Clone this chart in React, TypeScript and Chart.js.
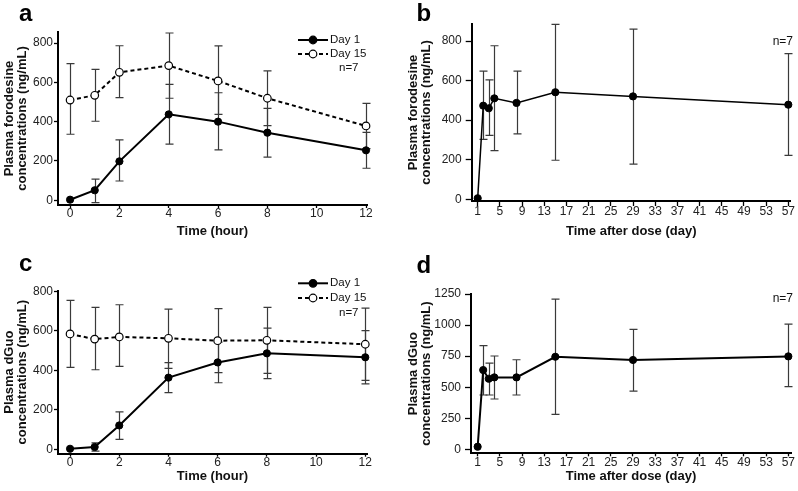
import React, { useEffect, useRef } from "react";
import { Chart, registerables } from "chart.js";

Chart.register(...registerables);

// ---------------- Data ----------------
const hourPoints = [0, 1, 2, 4, 6, 8, 12];
const hourTicks = [0, 2, 4, 6, 8, 10, 12];
const dayPoints = [1, 2, 3, 4, 8, 15, 29, 57];
const dayTicks = [1, 5, 9, 13, 17, 21, 25, 29, 33, 37, 41, 45, 49, 53, 57];
const concTicks800 = [0, 200, 400, 600, 800];
const concTicks1250 = [0, 250, 500, 750, 1000, 1250];

const forodesineDay1 = [3, 51, 198, 437, 400, 344, 254];
const forodesineDay1Upper = [null, 108, 307, 590, 547, 468, 345];
const forodesineDay1Lower = [null, -12, 98, 286, 256, 220, 163];
const forodesineDay15 = [510, 534, 651, 685, 607, 519, 378];
const forodesineDay15Upper = [695, 666, 786, 851, 785, 658, 493];
const forodesineDay15Lower = [336, 402, 522, 519, 437, 380, 263];

const forodesineDaily = [5, 473, 460, 510, 487, 541, 520, 478];
const forodesineDailyUpper = [null, 648, 603, 776, 648, 884, 860, 736];
const forodesineDailyLower = [null, 303, 323, 246, 330, 197, 177, 222];

const dGuoDay1 = [3, 12, 121, 363, 440, 486, 466];
const dGuoDay1Upper = [null, 33, 190, 439, 543, 614, 601];
const dGuoDay1Lower = [null, -9, 51, 287, 337, 358, 331];
const dGuoDay15 = [584, 558, 569, 562, 550, 552, 532];
const dGuoDay15Upper = [754, 719, 732, 710, 712, 719, 715];
const dGuoDay15Lower = [415, 403, 420, 410, 388, 385, 349];

const dGuoDaily = [21, 638, 568, 579, 579, 745, 719, 748];
const dGuoDailyUpper = [null, 834, 694, 751, 721, 1209, 965, 1008];
const dGuoDailyLower = [null, 437, 437, 405, 437, 281, 469, 504];

const legendLabels = ["Day 1", "Day 15"];
const sampleLabel = "n=7";
const hourTitle = "Time (hour)";
const dayTitle = "Time after dose (day)";
const forodesineTitle = ["Plasma forodesine", "concentrations (ng/mL)"];
const dGuoTitle = ["Plasma dGuo", "concentrations (ng/mL)"];

// ---------------- Styling / layout ----------------
const FONT = '"Liberation Sans", Arial, Helvetica, sans-serif';

type Series = {
  label: string;
  values: number[];
  upper: (number | null)[];
  lower: (number | null)[];
  open: boolean;
  width: number;
};

type Spec = {
  letter: string;
  letterPos: [number, number];
  left: number;
  top: number;
  w: number;
  h: number;
  area: { l: number; t: number; r: number; b: number };
  xs: number[];
  xTicks: number[];
  yTicks: number[];
  xMin: number;
  xMax: number;
  yMin: number;
  yMax: number;
  xTitle: string;
  yTitle: string[];
  series: Series[];
  tickLen: number;
  tickPad: number;
  xTickLen: number;
  xTickPad: number;
  yTitlePad: number;
  xTitlePad: number;
  legend?: { x0: number; x1: number; tx: number; rows: number[]; nx: number; ny: number };
  nLabel?: { x: number; y: number };
};

const decorPlugin = {
  id: "decor",
  beforeDatasetsDraw(chart: any) {
    const ctx = chart.ctx;
    const xs = chart.scales.x;
    const ys = chart.scales.y;
    chart.data.datasets.forEach((ds: any) => {
      if (!ds.errUpper) return;
      ctx.save();
      ctx.strokeStyle = "#3a3a3a";
      ctx.lineWidth = 1.2;
      ds.data.forEach((pt: any, i: number) => {
        const hi = ds.errUpper[i];
        const lo = ds.errLower[i];
        if (hi == null || lo == null) return;
        const x = Math.round(xs.getPixelForValue(pt.x)) + 0.5;
        const yh = ys.getPixelForValue(hi);
        const yl = ys.getPixelForValue(lo);
        ctx.beginPath();
        ctx.moveTo(x, yh);
        ctx.lineTo(x, yl);
        ctx.moveTo(x - 4, yh);
        ctx.lineTo(x + 4, yh);
        ctx.moveTo(x - 4, yl);
        ctx.lineTo(x + 4, yl);
        ctx.stroke();
      });
      ctx.restore();
    });
  },
  afterDraw(chart: any, _args: any, opts: any) {
    const ctx = chart.ctx;
    const spec: Spec = opts.spec;
    ctx.save();
    ctx.fillStyle = "#000";
    ctx.textBaseline = "alphabetic";
    ctx.textAlign = "left";
    ctx.font = `bold 24px ${FONT}`;
    ctx.fillText(spec.letter, spec.letterPos[0], spec.letterPos[1]);

    if (spec.legend) {
      const lg = spec.legend;
      spec.series.forEach((s, i) => {
        const y = lg.rows[i];
        ctx.strokeStyle = "#000";
        ctx.lineWidth = 2;
        ctx.setLineDash(s.open ? [4, 3] : []);
        ctx.beginPath();
        ctx.moveTo(lg.x0, y);
        ctx.lineTo(lg.x1, y);
        ctx.stroke();
        ctx.setLineDash([]);
        const cx = (lg.x0 + lg.x1) / 2;
        ctx.beginPath();
        ctx.arc(cx, y, 3.8, 0, Math.PI * 2);
        ctx.fillStyle = s.open ? "#fff" : "#000";
        ctx.fill();
        ctx.lineWidth = 1.2;
        ctx.stroke();
        ctx.fillStyle = "#111";
        ctx.font = `11.5px ${FONT}`;
        ctx.textBaseline = "middle";
        ctx.fillText(s.label, lg.tx, y);
      });
      ctx.font = `11.5px ${FONT}`;
      ctx.textBaseline = "middle";
      ctx.fillText(sampleLabel, lg.nx, lg.ny);
    }
    if (spec.nLabel) {
      ctx.fillStyle = "#111";
      ctx.font = `12px ${FONT}`;
      ctx.textBaseline = "middle";
      ctx.textAlign = "right";
      ctx.fillText(sampleLabel, spec.nLabel.x, spec.nLabel.y);
    }
    ctx.restore();
  },
};

function buildConfig(spec: Spec): any {
  const datasets = spec.series.map((s) => ({
    label: s.label,
    data: s.values.map((v, i) => ({ x: spec.xs[i], y: v })),
    borderColor: "#000",
    backgroundColor: s.open ? "#fff" : "#000",
    borderWidth: s.width,
    borderDash: s.open ? [4, 3] : [],
    pointRadius: s.open ? 3.8 : 3.6,
    pointBorderWidth: s.open ? 1.2 : 1,
    pointBackgroundColor: s.open ? "#fff" : "#000",
    pointBorderColor: "#000",
    tension: 0,
    clip: false,
    errUpper: s.upper,
    errLower: s.lower,
  }));
  const gridOpts = (len: number) => ({
    display: true,
    drawOnChartArea: false,
    drawTicks: true,
    tickLength: len,
    tickColor: "#000",
    tickWidth: 1.3,
  });
  const borderOpts = { display: true, color: "#000", width: 2 };
  return {
    type: "line",
    data: { datasets },
    plugins: [decorPlugin],
    options: {
      animation: false,
      responsive: false,
      maintainAspectRatio: false,
      layout: {
        padding: { left: 0, top: spec.area.t, right: spec.w - spec.area.r, bottom: 0 },
      },
      plugins: {
        legend: { display: false },
        tooltip: { enabled: false },
        decor: { spec },
      },
      scales: {
        x: {
          type: "linear",
          min: spec.xMin,
          max: spec.xMax,
          afterBuildTicks: (s: any) => {
            s.ticks = spec.xTicks.map((v) => ({ value: v }));
          },
          afterFit: (s: any) => {
            s.height = spec.h - spec.area.b;
          },
          ticks: {
            autoSkip: false,
            maxRotation: 0,
            padding: spec.xTickPad,
            color: "#222",
            font: { family: FONT, size: 12, lineHeight: 1 },
            callback: (v: any) => String(v),
          },
          grid: gridOpts(spec.xTickLen),
          border: borderOpts,
          title: {
            display: true,
            text: spec.xTitle,
            color: "#111",
            font: { family: FONT, size: 13, weight: "bold", lineHeight: 1.2 },
            padding: { top: 0, bottom: spec.xTitlePad },
          },
        },
        y: {
          type: "linear",
          min: spec.yMin,
          max: spec.yMax,
          afterBuildTicks: (s: any) => {
            s.ticks = spec.yTicks.map((v) => ({ value: v }));
          },
          afterFit: (s: any) => {
            s.width = spec.area.l;
          },
          ticks: {
            autoSkip: false,
            padding: spec.tickPad,
            color: "#222",
            font: { family: FONT, size: 12 },
            callback: (v: any) => String(v),
          },
          grid: gridOpts(spec.tickLen),
          border: borderOpts,
          title: {
            display: true,
            text: spec.yTitle,
            color: "#111",
            font: { family: FONT, size: 13, weight: "bold", lineHeight: 1 },
            padding: { top: spec.yTitlePad, bottom: 0 },
          },
        },
      },
    },
  };
}

const specs: Spec[] = [
  {
    letter: "a",
    letterPos: [19, 21],
    left: 0,
    top: 0,
    w: 399,
    h: 245,
    area: { l: 58, t: 32, r: 367, b: 205 },
    xs: hourPoints,
    xTicks: hourTicks,
    yTicks: concTicks800,
    xMin: -0.49,
    xMax: 12.04,
    yMin: -24,
    yMax: 856,
    xTitle: hourTitle,
    yTitle: forodesineTitle,
    series: [
      { label: legendLabels[0], values: forodesineDay1, upper: forodesineDay1Upper, lower: forodesineDay1Lower, open: false, width: 2 },
      { label: legendLabels[1], values: forodesineDay15, upper: forodesineDay15Upper, lower: forodesineDay15Lower, open: true, width: 2 },
    ],
    tickLen: 4,
    tickPad: 1,
    xTickLen: 3,
    xTickPad: 0,
    yTitlePad: 3,
    xTitlePad: 5.5,
    legend: { x0: 298, x1: 328, tx: 330, rows: [40, 54], nx: 339, ny: 68 },
  },
  {
    letter: "b",
    letterPos: [17.5, 21],
    left: 399,
    top: 0,
    w: 399,
    h: 245,
    area: { l: 72.7, t: 24, r: 391.7, b: 201 },
    xs: dayPoints,
    xTicks: dayTicks,
    yTicks: concTicks800,
    xMin: -0.08,
    xMax: 57.43,
    yMin: -9,
    yMax: 886,
    xTitle: dayTitle,
    yTitle: forodesineTitle,
    series: [
      { label: "", values: forodesineDaily, upper: forodesineDailyUpper, lower: forodesineDailyLower, open: false, width: 1.5 },
    ],
    tickLen: 6,
    tickPad: 4,
    xTickLen: 5,
    xTickPad: 0,
    yTitlePad: 7.5,
    xTitlePad: 5.5,
    nLabel: { x: 394, y: 41.5 },
  },
  {
    letter: "c",
    letterPos: [19, 26],
    left: 0,
    top: 245,
    w: 399,
    h: 246,
    area: { l: 58, t: 45.7, r: 367, b: 208.7 },
    xs: hourPoints,
    xTicks: hourTicks,
    yTicks: concTicks800,
    xMin: -0.49,
    xMax: 12.07,
    yMin: -22,
    yMax: 803,
    xTitle: hourTitle,
    yTitle: dGuoTitle,
    series: [
      { label: legendLabels[0], values: dGuoDay1, upper: dGuoDay1Upper, lower: dGuoDay1Lower, open: false, width: 2 },
      { label: legendLabels[1], values: dGuoDay15, upper: dGuoDay15Upper, lower: dGuoDay15Lower, open: true, width: 2 },
    ],
    tickLen: 4,
    tickPad: 1,
    xTickLen: 3,
    xTickPad: 0,
    yTitlePad: 3,
    xTitlePad: 6.5,
    legend: { x0: 298, x1: 328, tx: 330, rows: [38.3, 53], nx: 339, ny: 67.7 },
  },
  {
    letter: "d",
    letterPos: [17.5, 28],
    left: 399,
    top: 245,
    w: 399,
    h: 246,
    area: { l: 72, t: 49, r: 392, b: 208.3 },
    xs: dayPoints,
    xTicks: dayTicks,
    yTicks: concTicks1250,
    xMin: -0.2,
    xMax: 57.48,
    yMin: -32,
    yMax: 1250,
    xTitle: dayTitle,
    yTitle: dGuoTitle,
    series: [
      { label: "", values: dGuoDaily, upper: dGuoDailyUpper, lower: dGuoDailyLower, open: false, width: 2 },
    ],
    tickLen: 6,
    tickPad: 4,
    xTickLen: 3,
    xTickPad: 0,
    yTitlePad: 7.5,
    xTitlePad: 6.5,
    nLabel: { x: 394, y: 53.5 },
  },
];

function Panel({ spec }: { spec: Spec }) {
  const ref = useRef<HTMLCanvasElement>(null);
  useEffect(() => {
    if (!ref.current) return;
    const chart = new Chart(ref.current, buildConfig(spec));
    return () => chart.destroy();
  }, [spec]);
  return (
    <div style={{ position: "absolute", left: spec.left, top: spec.top, width: spec.w, height: spec.h }}>
      <canvas ref={ref} width={spec.w} height={spec.h} style={{ display: "block", width: spec.w, height: spec.h }} />
    </div>
  );
}

export default function App() {
  return (
    <div style={{ position: "absolute", left: 0, top: 0, width: 798, height: 491, background: "#fff", overflow: "hidden" }}>
      {specs.map((s) => (
        <Panel key={s.letter} spec={s} />
      ))}
    </div>
  );
}
